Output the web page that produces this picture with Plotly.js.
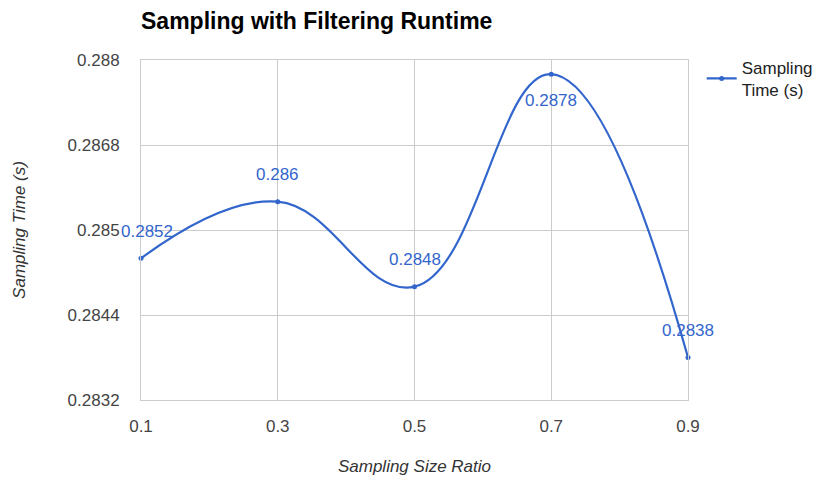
<!DOCTYPE html>
<html><head><meta charset="utf-8">
<script src="https://cdn.plot.ly/plotly-3.0.1.min.js"></script>
<style>html,body{margin:0;padding:0;background:#fff}#chart{width:830px;height:479px}</style>
</head><body><div id="chart"></div>
<script>
const ratios = [0.1, 0.3, 0.5, 0.7, 0.9];
const times = [0.2852, 0.286, 0.2848, 0.2878, 0.2838];
const labelAbove = [true, true, true, false, true];
const yTickVals = [0.2832, 0.2844, 0.2856, 0.2868, 0.288];
const yTickText = ['0.2832', '0.2844', '0.285', '0.2868', '0.288'];
const xTickVals = [0.1, 0.3, 0.5, 0.7, 0.9];

const trace = {
  x: ratios, y: times, type: 'scatter', mode: 'lines+markers',
  name: 'Sampling<br>Time (s)',
  line: {color: '#3366cc', width: 2.2, shape: 'spline', smoothing: 1.2},
  marker: {color: '#3366cc', size: 5},
  cliponaxis: false
};
const annotations = ratios.map((x, i) => ({
  x: x, y: times[i], xref: 'x', yref: 'y', text: String(times[i]), showarrow: false,
  yshift: labelAbove[i] ? 27 : -26, xshift: i === 0 ? 6 : 0,
  font: {family: 'Liberation Sans, Arial, sans-serif', size: 17, color: '#3366cc'}
}));
const layout = {
  width: 830, height: 479,
  margin: {l: 141, r: 138, t: 60, b: 79},
  paper_bgcolor: '#fff', plot_bgcolor: '#fff',
  font: {family: 'Liberation Sans, Arial, sans-serif', color: '#444'},
  title: {text: '<b>Sampling with Filtering Runtime</b>', font: {size: 23, color: '#000'},
    xref: 'paper', x: 0, xanchor: 'left', yref: 'container', y: 0.957, yanchor: 'middle'},
  xaxis: {range: [0.1, 0.9], tickvals: xTickVals, ticktext: xTickVals.map(v => v.toFixed(1)),
    showgrid: true, gridcolor: '#cccccc', showline: true, mirror: true, linecolor: '#cccccc',
    zeroline: false, ticks: '', ticklabelstandoff: 11, tickfont: {size: 17, color: '#444'},
    title: {text: '<i>Sampling Size Ratio</i>', font: {size: 17, color: '#333'}, standoff: 24}},
  yaxis: {range: [0.2832, 0.288], tickvals: yTickVals, ticktext: yTickText,
    showgrid: true, gridcolor: '#cccccc', showline: true, mirror: true, linecolor: '#cccccc',
    zeroline: false, ticks: '', ticklabelstandoff: 17, tickfont: {size: 17, color: '#444'},
    title: {text: '<i>Sampling Time (s)</i>', font: {size: 17, color: '#333'}, standoff: 37}},
  annotations: annotations,
  showlegend: true,
  legend: {x: 1.025, xanchor: 'left', y: 1.03, yanchor: 'top', font: {size: 17, color: '#222'},
    bgcolor: 'rgba(0,0,0,0)'}
};
Plotly.newPlot('chart', [trace], layout, {displayModeBar: false});
</script></body></html>
